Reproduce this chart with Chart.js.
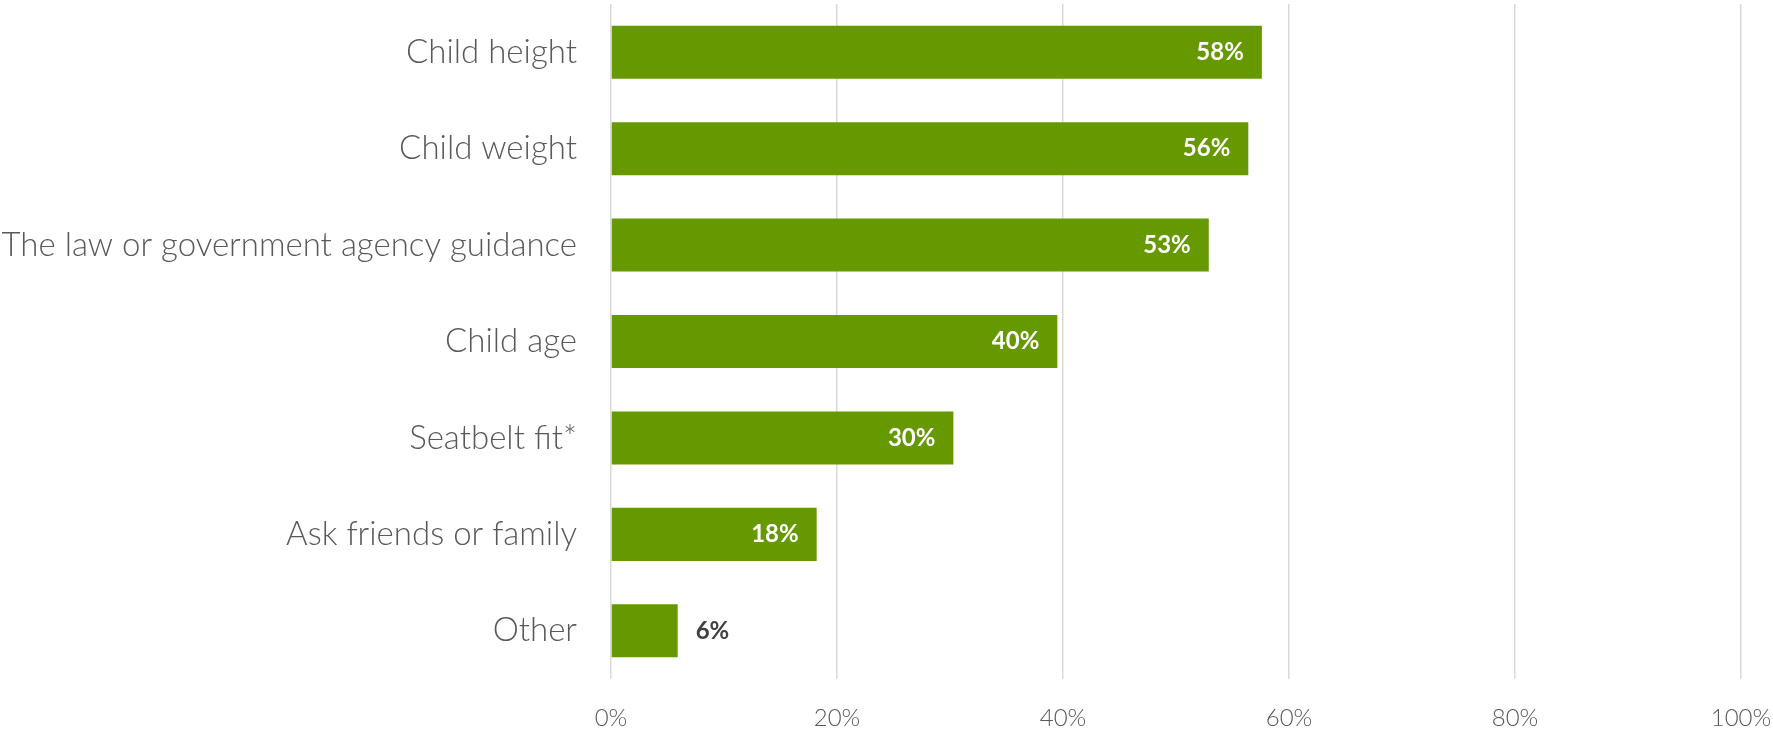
<!DOCTYPE html>
<html>
<head>
<meta charset="utf-8">
<script src="https://cdn.jsdelivr.net/npm/chart.js@4/dist/chart.umd.min.js"></script>
<style>
    html, body { margin: 0; padding: 0; background: #fff; }
    #wrap { width: 1773px; height: 731px; }
</style>
</head>
<body>
<div id="wrap"><canvas id="chart"></canvas></div>
<script>
const categories = [
    "Child height",
    "Child weight",
    "The law or government agency guidance",
    "Child age",
    "Seatbelt fit*",
    "Ask friends or family",
    "Other"
];
const values = [57.6, 56.4, 52.9, 39.5, 30.3, 18.2, 5.9];
const valueLabels = ["58%", "56%", "53%", "40%", "30%", "18%", "6%"];
const xTickValues = [0, 20, 40, 60, 80, 100];

const barLabels = {
    id: "barLabels",
    afterDatasetsDraw(chart) {
        const ctx = chart.ctx;
        const meta = chart.getDatasetMeta(0);
        ctx.save();
        ctx.font = "bold 24px Lato";
        ctx.textBaseline = "middle";
        meta.data.forEach((bar, i) => {
            const text = valueLabels[i];
            if (values[i] < 10) {
                ctx.fillStyle = "#404040";
                ctx.textAlign = "left";
                ctx.fillText(text, bar.x + 18, bar.y);
            } else {
                ctx.fillStyle = "#ffffff";
                ctx.textAlign = "right";
                ctx.fillText(text, bar.x - 18, bar.y);
            }
        });
        ctx.restore();
    }
};

new Chart(document.getElementById("chart"), {
    type: "bar",
    data: {
        labels: categories,
        datasets: [{
            data: values,
            backgroundColor: "#669900",
            categoryPercentage: 1,
            barPercentage: 0.55
        }]
    },
    plugins: [barLabels],
    options: {
        indexAxis: "y",
        responsive: true,
        maintainAspectRatio: false,
        animation: false,
        layout: { padding: { top: 4, right: 32, left: 0, bottom: 0 } },
        plugins: {
            legend: { display: false },
            tooltip: { enabled: false }
        },
        scales: {
            x: {
                min: 0,
                max: 100,
                afterBuildTicks: (scale) => {
                    scale.ticks = xTickValues.map(v => ({ value: v }));
                },
                afterFit: (scale) => {
                    scale.height = 52;
                    scale.paddingLeft = 0;
                    scale.paddingRight = 0;
                },
                grid: { color: "#d9d9d9", lineWidth: 1.5, drawTicks: false },
                border: { display: false },
                ticks: {
                    padding: 25,
                    color: "#595959",
                    font: { family: "Lato", size: 24, weight: 300 },
                    callback: (v) => v + "%"
                }
            },
            y: {
                afterFit: (scale) => {
                    scale.width = 611;
                    scale.paddingTop = 0;
                    scale.paddingBottom = 0;
                },
                grid: { display: false, drawTicks: false },
                border: { display: false },
                ticks: {
                    padding: 34,
                    color: "#595959",
                    font: { family: "Lato", size: 33, weight: 300 }
                }
            }
        }
    }
});
</script>
</body>
</html>
